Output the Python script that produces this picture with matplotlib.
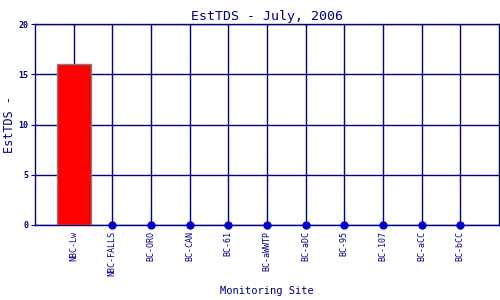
import numpy as np
import matplotlib
matplotlib.use('Agg')
import matplotlib.pyplot as plt

# ── Data ──────────────────────────────────────────────────
sites  = ['NBC-Lw', 'NBC-FALLS', 'BC-ORO', 'BC-CAN', 'BC-61', 'BC-aWWTP',
          'BC-aDC', 'BC-95', 'BC-107', 'BC-aCC', 'BC-bCC']
values = [16, 0, 0, 0, 0, 0, 0, 0, 0, 0, 0]
yticks = [0, 5, 10, 15, 20]

navy = '#000080'
font = 'DejaVu Sans Mono'

fig = plt.figure(figsize=(5, 3), dpi=100)
ax = fig.add_axes([0.07, 0.25, 0.928, 0.67])

x = np.arange(len(sites))
vals = np.array(values, dtype=float)

# bars for non-zero sites, dots for zero readings
has_val = vals > 0
ax.bar(x[has_val], vals[has_val], width=0.88, color='red',
       edgecolor='#808080', linewidth=1, zorder=3)
ax.plot(x[~has_val], vals[~has_val], 'o', color='#0000CC',
        markersize=5, zorder=4, clip_on=False)

ax.set_xlim(-1, len(sites))
ax.set_ylim(0, 20)
ax.set_xticks(x)
ax.set_xticklabels(sites, rotation=90, fontsize=6, family=font, color=navy)
ax.set_yticks(yticks)
ax.set_yticklabels([str(v) for v in yticks], fontsize=6, family=font,
                   color=navy, fontweight='bold')

ax.grid(True, color=navy, linewidth=1, zorder=0)
ax.set_axisbelow(True)
for s in ax.spines.values():
    s.set_color(navy)
    s.set_linewidth(1)
ax.tick_params(axis='x', length=0, pad=4)
ax.tick_params(axis='y', length=3, color=navy, pad=2)

ax.set_title('EstTDS - July, 2006', fontsize=9.5, family=font, color=navy, pad=3)
ax.set_ylabel('EstTDS -', fontsize=8.5, family=font, color=navy)
ax.yaxis.set_label_coords(-0.042, 0.5)
ax.set_xlabel('Monitoring Site', fontsize=7.5, family=font, color=navy)
ax.xaxis.set_label_coords(0.5, -0.305)

fig.savefig('out.png', dpi=100)
